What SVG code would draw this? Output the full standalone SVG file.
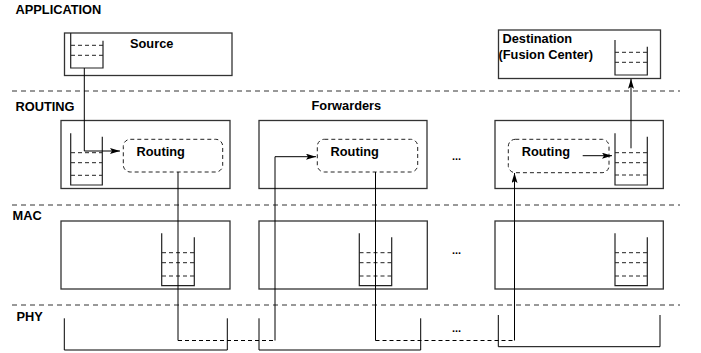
<svg xmlns="http://www.w3.org/2000/svg" width="701" height="353" viewBox="0 0 701 353">
<style>
text{font-family:"Liberation Sans",Arial,sans-serif;font-weight:bold;font-size:12.8px;fill:#000}
.layer{stroke:#333;stroke-width:1;stroke-dasharray:5,4;fill:none}
.box{fill:none;stroke:#333;stroke-width:1.3}
.q{fill:none;stroke:#222;stroke-width:1.2}
.qd{stroke:#222;stroke-width:1;stroke-dasharray:4,3;fill:none}
.rt{fill:none;stroke:#222;stroke-width:1;stroke-dasharray:4,3}
.c{fill:none;stroke:#000;stroke-width:1}
.cd{fill:none;stroke:#000;stroke-width:1;stroke-dasharray:4,3}
.dots{font-size:11px}
</style>
<defs>
<marker id="ah" viewBox="0 0 10 6" refX="10" refY="3" markerWidth="10" markerHeight="6" markerUnits="userSpaceOnUse" orient="auto">
<path d="M0,0 L10,3 L0,6 L2,3 Z" fill="#000"/>
</marker>
</defs>
<g id="layers">
<path class="layer" d="M12 91H680M12 205H680M12 305H680"/>
<text x="15.5" y="13.5">APPLICATION</text>
<text x="15.5" y="110.5">ROUTING</text>
<text x="12.5" y="220">MAC</text>
<text x="16.5" y="321">PHY</text>
<text x="311.5" y="110">Forwarders</text>
<text class="dots" x="452" y="160">...</text>
<text class="dots" x="452" y="254">...</text>
<text class="dots" x="452" y="332">...</text>
</g>
<g id="source">
<rect class="box" x="64.5" y="33" width="167.5" height="42.5"/>
<path class="q" d="M70.7 33V68H103V40.7"/>
<path class="qd" d="M71 45.3H103M71 55.3H103"/>
<text x="130" y="48">Source</text>
</g>
<g id="destination">
<rect class="box" x="498.5" y="30" width="162" height="48.5"/>
<path class="q" d="M615 40V75H647.3V46.7"/>
<path class="qd" d="M615 52.3H647M615 62.3H647"/>
<text x="502.5" y="42.7">Destination</text>
<text x="498.5" y="59">(Fusion Center)</text>
</g>
<g id="routing1">
<rect class="box" x="61" y="120.5" width="169" height="68"/>
<path class="q" d="M70.7 133.3V185H102.3V136.7"/>
<path class="qd" d="M71 152.7H102M71 162.7H102M71 175.3H102"/>
<rect class="rt" x="123.3" y="139.3" width="99.4" height="32.7" rx="7"/>
<text x="136.5" y="156">Routing</text>
</g>
<g id="routing2">
<rect class="box" x="259" y="120.5" width="168" height="68"/>
<rect class="rt" x="317.3" y="139.3" width="100.4" height="32.7" rx="7"/>
<text x="330.5" y="156">Routing</text>
</g>
<g id="routing3">
<rect class="box" x="495" y="120.5" width="168.3" height="68"/>
<path class="q" d="M615 133.3V185H647.3V136.7"/>
<path class="qd" d="M615 152.7H647M615 162.7H647M615 175H647"/>
<rect class="rt" x="508.3" y="139.3" width="100.7" height="33.4" rx="7"/>
<text x="521.7" y="155.7">Routing</text>
</g>
<g id="mac1">
<rect class="box" x="61" y="221" width="169" height="68"/>
<path class="q" d="M161.7 233.3V285.7H194.3V237.3"/>
<path class="qd" d="M162 252.7H194M162 262.7H194M162 276H194"/>
</g>
<g id="mac2">
<rect class="box" x="259" y="221" width="168.3" height="68"/>
<path class="q" d="M359.3 233.3V285.7H391.7V237.3"/>
<path class="qd" d="M359.5 252.7H391.5M359.5 262.7H391.5M359.5 276H391.5"/>
</g>
<g id="mac3">
<rect class="box" x="495" y="221" width="168.3" height="68"/>
<path class="q" d="M615 233.3V285.7H647.3V237.3"/>
<path class="qd" d="M615 252.7H647M615 262.7H647M615 276H647"/>
</g>
<g id="phy1">
<path class="c" d="M64.3 318.3V350H227.3V318.3"/>
</g>
<g id="phy2">
<path class="c" d="M259 318.3V350H420.7V318.3"/>
</g>
<g id="phy3">
<path class="c" d="M498.3 315V346.7H660V315"/>
</g>
<g id="connectors">
<path class="c" d="M84.3 68V151H120" marker-end="url(#ah)"/>
<path class="c" d="M178 172V340.5"/>
<path class="cd" d="M178 340.5H275"/>
<path class="c" d="M275 340.5V156.7H316" marker-end="url(#ah)"/>
<path class="c" d="M375.5 172V340.5"/>
<path class="cd" d="M375.5 340.5H514.5"/>
<path class="c" d="M514.5 340.5V173" marker-end="url(#ah)"/>
<path class="c" d="M582.7 155.7H612" marker-end="url(#ah)"/>
<path class="c" d="M631 148.3V78.8" marker-end="url(#ah)"/>
</g>
</svg>
